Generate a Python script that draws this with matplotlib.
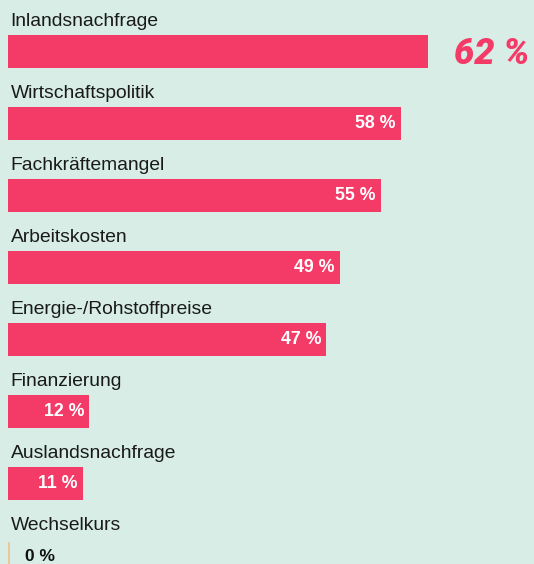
import matplotlib.pyplot as plt

# Data
categories = ["Inlandsnachfrage", "Wirtschaftspolitik", "Fachkräftemangel", "Arbeitskosten",
              "Energie-/Rohstoffpreise", "Finanzierung", "Auslandsnachfrage", "Wechselkurs"]
values = [62, 58, 55, 49, 47, 12, 11, 0]

bg = '#d7ede6'
bar_color = '#f43b68'

fig = plt.figure(figsize=(5.34, 5.64), dpi=100, facecolor=bg)
ax = fig.add_axes([0, 0, 1, 1])
ax.set_facecolor(bg)

px = 420 / 62  # pixels per percent
ax.set_xlim(-8 / px, 526 / px)
ax.set_ylim((564 - 51.5) / 72, -51.5 / 72)
ax.axis('off')

pos = list(range(len(values)))
ax.barh(pos, values, height=33 / 72, left=0, color=bar_color)

for i, (cat, v) in enumerate(zip(categories, values)):
    ax.text(2.5 / px, i - 25.5 / 72, cat, ha='left', va='baseline', fontsize=13.9,
            family='Liberation Sans', color='#1a1a1a')
    if i == 0:
        ax.text(v + 26 / px, i + 0.03, f"{v} %", ha='left', va='center', fontsize=26,
                fontweight='heavy', fontstyle='italic', color=bar_color,
                family='Roboto')
    elif v == 0:
        ax.plot([0.1, 0.1], [i - 0.17, i + 0.6], color='#efc28a', lw=1.2)
        ax.text(17 / px, i + 0.02, f"{v} %", ha='left', va='center', fontsize=12.5,
                fontweight='bold', color='#111111', family='Liberation Sans')
    else:
        ax.text(v - 5 / px, i, f"{v} %", ha='right', va='center', fontsize=12.8,
                fontweight='bold', color='white', family='Liberation Sans')

fig.savefig('out.png', dpi=100, facecolor=bg)
